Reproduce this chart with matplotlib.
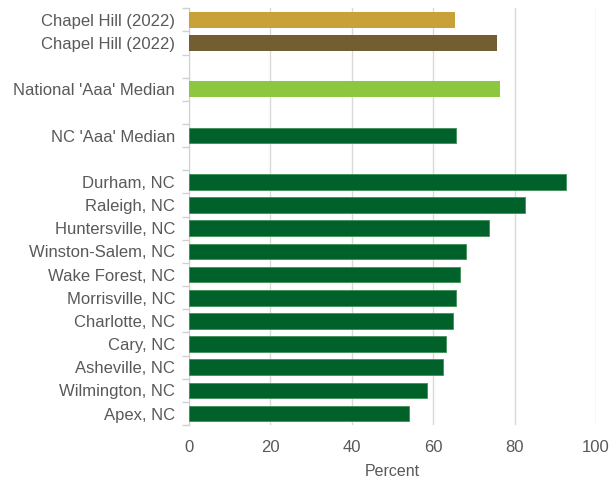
import numpy as np
import matplotlib.pyplot as plt

names = ["Chapel Hill (2022)", "Chapel Hill (2022)", "", "National 'Aaa' Median", "",
         "NC 'Aaa' Median", "", "Durham, NC", "Raleigh, NC", "Huntersville, NC",
         "Winston-Salem, NC", "Wake Forest, NC", "Morrisville, NC", "Charlotte, NC",
         "Cary, NC", "Asheville, NC", "Wilmington, NC", "Apex, NC"]
values = [65.4, 75.6, np.nan, 76.3, np.nan, 65.5, np.nan, 92.7, 82.5, 73.8,
          68.0, 66.6, 65.7, 64.9, 63.1, 62.4, 58.6, 54.1]
colors = ["#C9A13B", "#735E32", "none", "#8DC63F", "none", "#00612A", "none"] + ["#00612A"] * 11
edges = ["none", "none", "none", "none", "none"] + ["#3f8f55", "none"] + ["#3f8f55"] * 11

plt.rcParams["font.family"] = ["Liberation Sans", "DejaVu Sans"]
txt = "#595959"

fig = plt.figure(figsize=(6.09, 4.82), dpi=100)
ax = fig.add_axes([0.3103, 0.118, 0.6683, 0.865])

y = np.arange(len(names))
ax.barh(y, np.nan_to_num(values), height=0.68, color=colors,
        edgecolor=edges, linewidth=0.6, zorder=3)

ax.set_ylim(len(names) - 0.5, -0.5)
ax.set_xlim(0, 100)
ax.set_yticks(y)
ax.set_yticklabels(names, fontsize=12, color=txt)
ax.set_yticks(np.arange(-0.5, len(names), 1), minor=True)
ax.tick_params(axis="y", which="major", length=0, pad=10)
ax.tick_params(axis="y", which="minor", length=5, color="#d0d0d0", width=1)

ax.set_xticks(np.arange(0, 101, 20))
ax.tick_params(axis="x", length=0, labelsize=12, labelcolor=txt, pad=11)
ax.set_xlabel("Percent", fontsize=11.5, color=txt, labelpad=6)

ax.grid(axis="x", color="#d9d9d9", linewidth=1, zorder=0)
for s in ["top", "right", "bottom"]:
    ax.spines[s].set_visible(False)
ax.spines["left"].set_color("#d0d0d0")

fig.savefig("out.png", dpi=100)
